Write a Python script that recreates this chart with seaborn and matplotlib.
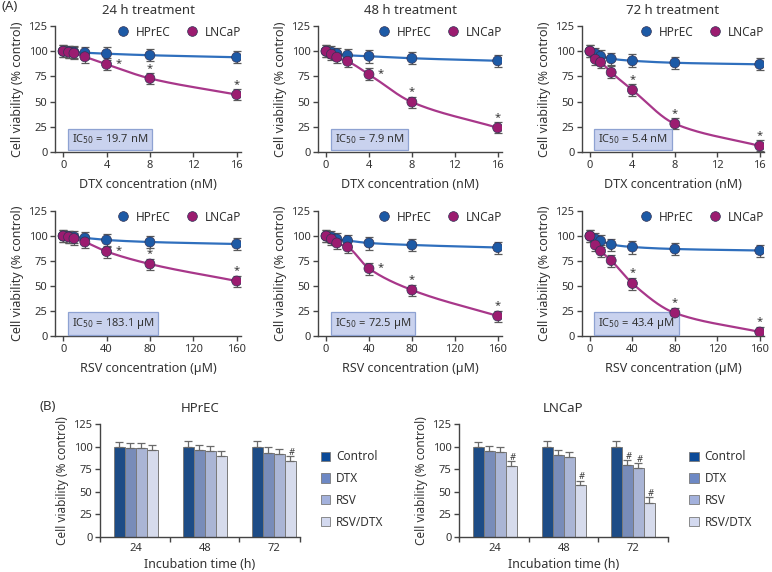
import numpy as np
import pandas as pd
import matplotlib
matplotlib.use("Agg")
import matplotlib.pyplot as plt
from matplotlib.lines import Line2D
from matplotlib.patches import Patch
import seaborn as sns

sns.set_theme(style="ticks")
plt.rcParams['font.family'] = ['Noto Sans', 'DejaVu Sans']
plt.rcParams['mathtext.fontset'] = 'dejavusans'

# ---------------- data ----------------
dtx_conc = [0, 0.5, 1, 2, 4, 8, 16]
rsv_conc = [0, 5, 10, 20, 40, 80, 160]
times = ["24 h treatment", "48 h treatment", "72 h treatment"]

hprec_dtx = [[100, 99.5, 99, 98.5, 97.5, 96, 94],
             [100, 99, 97.5, 96, 95, 93, 90.5],
             [100, 97.5, 95, 92.5, 90.5, 88.5, 87]]
lncap_dtx = [[100, 99, 98, 94.5, 87, 73, 57],
             [100, 97, 94, 90, 77, 49.5, 24],
             [100, 92, 89, 79, 61.5, 28, 6]]
hprec_rsv = [[100, 99.5, 99, 98, 96, 94, 92],
             [100, 99, 97, 95.5, 93, 91, 88.5],
             [100, 97, 95, 91.5, 89, 87, 85.5]]
lncap_rsv = [[100, 99, 97.5, 94, 84.5, 72, 55],
             [100, 97, 93, 89, 67.5, 46, 20],
             [100, 91, 85, 75.5, 52.5, 23, 4]]
hprec_err = [6, 6, 6, 6, 6.5, 6, 6]
lncap_err = [6, 6, 6, 6, 6, 5.5, 5.5]

ic50_dtx = ["19.7 nM", "7.9 nM", "5.4 nM"]
ic50_rsv = ["183.1 \u00b5M", "72.5 \u00b5M", "43.4 \u00b5M"]

bar_times = ["24", "48", "72"]
bar_groups = ["Control", "DTX", "RSV", "RSV/DTX"]
bar_hprec = [[100, 99, 98, 96], [100, 96, 95.5, 89.5], [100, 92.5, 91.5, 84]]
bar_lncap = [[100, 95, 93.5, 78], [100, 90.5, 89, 57], [100, 79.5, 76, 38]]
bar_hprec_err = [[5, 5, 6, 6], [6, 6, 5, 5.5], [6, 7, 6, 6]]
bar_lncap_err = [[5, 6, 6, 6], [6, 5.5, 5.5, 5.5], [6, 6, 5.5, 6.5]]
hprec_sig = [[0, 0, 0, 0], [0, 0, 0, 0], [0, 0, 0, 1]]
lncap_sig = [[0, 0, 0, 1], [0, 0, 0, 1], [0, 1, 1, 1]]

# ---------------- style ----------------
C_H = "#1d5aa6"
C_H_LINE = "#2f6fbd"
C_L = "#9b1c70"
C_L_LINE = "#a8378a"
ERR = "#5a5a5a"
TXT = "#333333"
BAR_COLORS = ["#0b4a98", "#6d88c4", "#a3b1dc", "#d3d9ef"]


def pchip(x, y, xs):
    x = np.asarray(x, float); y = np.asarray(y, float)
    h = np.diff(x); d = np.diff(y) / h
    n = len(x); m = np.zeros(n)
    for k in range(1, n - 1):
        if d[k - 1] * d[k] <= 0:
            m[k] = 0
        else:
            w1 = 2 * h[k] + h[k - 1]; w2 = h[k] + 2 * h[k - 1]
            m[k] = (w1 + w2) / (w1 / d[k - 1] + w2 / d[k])
    m[0] = d[0]; m[-1] = d[-1]
    out = np.empty_like(xs)
    idx = np.clip(np.searchsorted(x, xs) - 1, 0, n - 2)
    for i, (xv, k) in enumerate(zip(xs, idx)):
        t = (xv - x[k]) / h[k]
        h00 = 2 * t**3 - 3 * t**2 + 1; h10 = t**3 - 2 * t**2 + t
        h01 = -2 * t**3 + 3 * t**2; h11 = t**3 - t**2
        out[i] = h00 * y[k] + h10 * h[k] * m[k] + h01 * y[k + 1] + h11 * h[k] * m[k + 1]
    return out


W, H = 772, 572
fig = plt.figure(figsize=(W / 100, H / 100), dpi=100)


def px_axes(l, r, t, b):
    return fig.add_axes([l / W, 1 - b / H, (r - l) / W, (b - t) / H])


def style_ax(ax):
    for s in ["top", "right"]:
        ax.spines[s].set_visible(False)
    for s in ["left", "bottom"]:
        ax.spines[s].set_color("#444444")
        ax.spines[s].set_linewidth(1.0)
    ax.tick_params(axis="both", direction="out", length=3.5, width=1.0,
                   color="#444444", labelsize=8, labelcolor=TXT, pad=2)


lefts = [55, 318, 582]
rights = [241, 502, 764]
rows = [(26, 152), (211, 336)]


def conc_panel(ax, conc, hp, lc, ic, xlabel, ticks, scale, title, i):
    xs = np.linspace(0, conc[-1], 300)
    df = pd.DataFrame({"conc": conc * 2,
                       "viab": hp + lc,
                       "cell": ["HPrEC"] * 7 + ["LNCaP"] * 7})
    ax.plot(xs, pchip(conc, hp, xs), color=C_H_LINE, lw=1.6, zorder=2)
    ax.plot(xs, pchip(conc, lc, xs), color=C_L_LINE, lw=1.6, zorder=2)
    ax.errorbar(conc, hp, yerr=hprec_err, fmt="none", ecolor=ERR, elinewidth=0.9,
                capsize=3, capthick=0.9, zorder=3)
    ax.errorbar(conc, lc, yerr=lncap_err, fmt="none", ecolor=ERR, elinewidth=0.9,
                capsize=3, capthick=0.9, zorder=3)
    sns.scatterplot(data=df, x="conc", y="viab", hue="cell",
                    palette={"HPrEC": C_H, "LNCaP": C_L},
                    s=52, edgecolor="#333355", linewidth=0.5, ax=ax, zorder=4,
                    legend=False)
    # significance marks
    for j in [4, 5, 6]:
        if j == 4 and i < 2:
            ax.text(conc[j] + 0.07 * conc[-1], lc[j] + 1, "*", ha="center",
                    va="center", fontsize=8, color=TXT)
        else:
            ax.text(conc[j], lc[j] + lncap_err[j] + 4.5, "*", ha="center",
                    va="center", fontsize=8, color=TXT)
    ax.set_xlim(-0.75 * scale, conc[-1] + 0.4 * scale)
    ax.set_ylim(0, 125)
    ax.set_xticks(ticks)
    ax.set_yticks([0, 25, 50, 75, 100, 125])
    ax.set_xlabel(xlabel, fontsize=9, color=TXT, labelpad=5)
    ax.set_ylabel("Cell viability (% control)", fontsize=9, color=TXT, labelpad=3)
    if title:
        ax.set_title(title, fontsize=9.5, color=TXT, pad=9)
    style_ax(ax)
    ax.text(0.09, 0.1, "IC$_{50}$ = " + ic, transform=ax.transAxes, fontsize=8,
            color=TXT, ha="left", va="center",
            bbox=dict(boxstyle="square,pad=0.35", fc="#c9d2ee", ec="#8ea2d2", lw=0.9))
    handles = [Line2D([], [], marker="o", ls="none", color=C_H, markersize=7,
                      markeredgecolor="#333355", markeredgewidth=0.5),
               Line2D([], [], marker="o", ls="none", color=C_L, markersize=7,
                      markeredgecolor="#333355", markeredgewidth=0.5)]
    ax.legend(handles, ["HPrEC", "LNCaP"], ncol=2, frameon=False, fontsize=8.5,
              loc="upper right", bbox_to_anchor=(1.04, 1.06), handletextpad=0.1,
              columnspacing=0.8, borderaxespad=0.2, labelcolor=TXT)


for i in range(3):
    ax = px_axes(lefts[i], rights[i], rows[0][0], rows[0][1])
    conc_panel(ax, dtx_conc, hprec_dtx[i], lncap_dtx[i], ic50_dtx[i],
               "DTX concentration (nM)", [0, 4, 8, 12, 16], 1, times[i], i)
    ax = px_axes(lefts[i], rights[i], rows[1][0], rows[1][1])
    conc_panel(ax, rsv_conc, hprec_rsv[i], lncap_rsv[i], ic50_rsv[i],
               "RSV concentration (\u00b5M)", [0, 40, 80, 120, 160], 10, None, i)

fig.text(2 / W, 1 - 7 / H, "(A)", fontsize=9.5, color=TXT, va="center", ha="left")
fig.text(40 / W, 1 - 407 / H, "(B)", fontsize=9.5, color=TXT, va="center", ha="left")


def bar_panel(ax, vals, errs, sig, title, xright):
    rows_ = []
    for t, v in zip(bar_times, vals):
        for g, val in zip(bar_groups, v):
            rows_.append({"time": t, "group": g, "viab": val})
    df = pd.DataFrame(rows_)
    sns.barplot(data=df, x="time", y="viab", hue="group", hue_order=bar_groups,
                palette=BAR_COLORS, width=0.64, edgecolor="#7a7a7a", linewidth=0.7,
                errorbar=None, ax=ax, legend=False, zorder=2)
    bw = 0.16
    for gi in range(3):
        for k in range(4):
            x = gi + (k - 1.5) * bw
            top = vals[gi][k]
            e = errs[gi][k]
            ax.errorbar([x], [top], yerr=[[0], [e]], fmt="none", ecolor="#6a6a6a",
                        elinewidth=0.9, capsize=3, capthick=0.9, zorder=3)
            if sig[gi][k]:
                ax.text(x + 0.02, top + e + 4, "#", ha="center", va="center",
                        fontsize=6.5, color=TXT, style="italic")
    ax.set_xlim(-0.52, xright)
    ax.set_ylim(0, 125)
    ax.set_yticks([0, 25, 50, 75, 100, 125])
    ax.set_xticks([-0.52, 0.5, 1.5, xright], minor=True)
    style_ax(ax)
    ax.tick_params(axis="x", which="minor", length=3.5, width=1.0, color="#444444")
    ax.tick_params(axis="x", which="major", length=0, pad=4)
    ax.set_xlabel("Incubation time (h)", fontsize=9, color=TXT, labelpad=3)
    ax.set_ylabel("Cell viability (% control)", fontsize=8.5, color=TXT, labelpad=3)
    ax.set_title(title, fontsize=9.5, color=TXT, pad=9)
    handles = [Patch(fc=c, ec="#7a7a7a", lw=0.6) for c in BAR_COLORS]
    ax.legend(handles, bar_groups, frameon=False, fontsize=8.5, loc="center left",
              bbox_to_anchor=(1.05, 0.42), handlelength=0.8, handleheight=0.8,
              handletextpad=0.5, labelspacing=0.75, labelcolor=TXT)


ax = px_axes(100, 300, 424, 537)
bar_panel(ax, bar_hprec, bar_hprec_err, hprec_sig, "HPrEC", 2.38)
ax = px_axes(459, 668, 424, 537)
bar_panel(ax, bar_lncap, bar_lncap_err, lncap_sig, "LNCaP", 2.51)

fig.savefig("out.png", dpi=100)
